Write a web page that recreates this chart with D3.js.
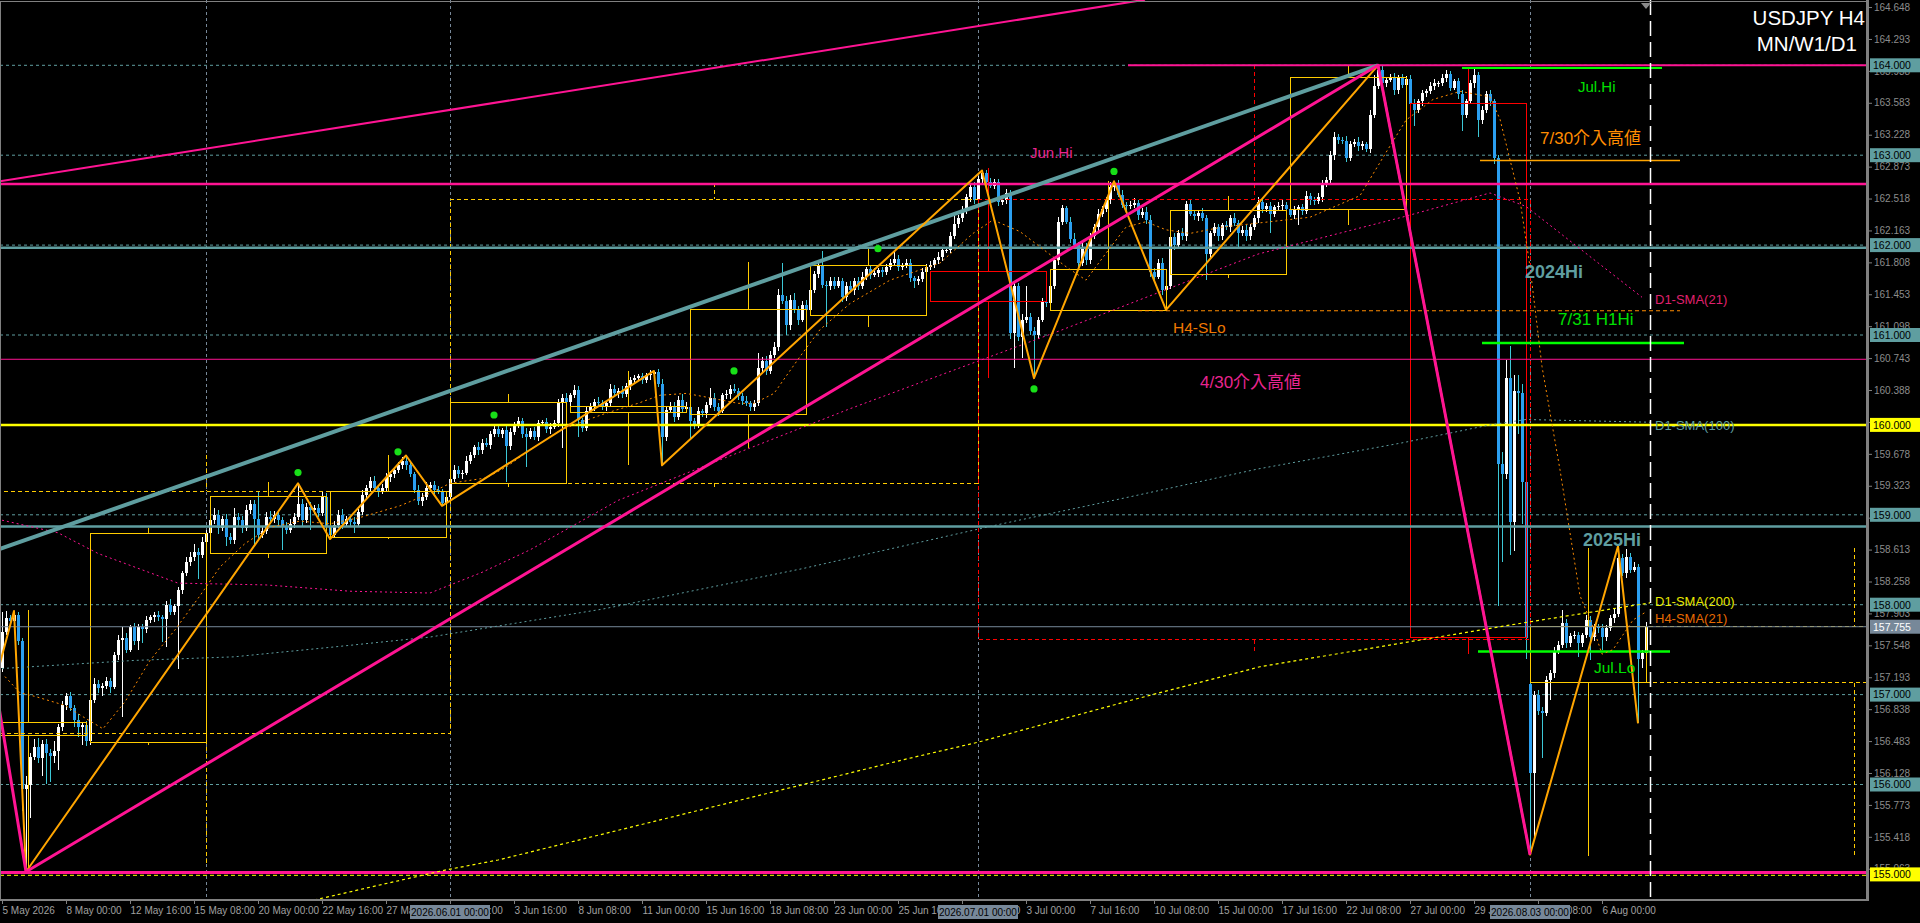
<!DOCTYPE html>
<html lang="ja">
<head>
<meta charset="UTF-8">
<style>
  body { margin: 0; background: #000; overflow: hidden; }
  svg text { font-family: "Liberation Sans", "Noto Sans CJK JP", sans-serif; }
</style>
</head>
<body>
<script src="https://cdn.jsdelivr.net/npm/d3@7"></script>
<script>
// ---- H4 candles (bar 0 = 5 May 2026 08:00), open = previous close ----
var firstOpen = 157.30;
var gapBar = 382, gapOpen = 157.12;
var closes = [
  157.70,157.85,157.82,157.88,157.60,155.95,156.00,156.31,156.42,156.30,156.45,156.35,156.32,156.37,156.64,156.88,
  156.98,156.85,156.72,156.64,156.66,156.48,156.94,157.12,157.07,157.10,157.15,157.09,157.44,157.61,157.63,157.50,
  157.75,157.60,157.75,157.73,157.83,157.86,157.88,157.86,157.84,158.00,157.92,157.98,158.16,158.35,158.48,158.53,
  158.59,158.55,158.70,158.80,158.94,159.00,158.85,158.95,158.75,158.72,158.98,158.94,158.85,159.05,159.12,158.95,
  158.78,158.82,158.98,158.95,159.00,158.94,158.88,158.83,158.90,158.98,159.12,158.94,159.09,159.05,159.08,159.02,
  159.20,158.87,158.78,158.89,159.00,158.90,158.95,158.92,158.90,159.03,159.22,159.30,159.38,159.30,159.27,159.30,
  159.42,159.45,159.50,159.55,159.60,159.55,159.45,159.28,159.15,159.20,159.30,159.33,159.28,159.26,159.13,159.20,
  159.40,159.50,159.45,159.47,159.60,159.66,159.75,159.72,159.80,159.78,159.90,159.95,159.90,159.94,159.76,159.92,
  160.00,160.04,159.90,159.87,159.93,159.87,160.02,160.03,159.95,159.98,160.02,160.24,160.30,160.26,160.33,160.39,
  160.05,159.97,160.16,160.20,160.26,160.24,160.20,160.24,160.40,160.35,160.38,160.34,160.43,160.50,160.52,160.54,
  160.50,160.55,160.57,160.59,160.46,159.87,160.17,160.20,160.09,160.28,160.18,160.20,160.04,160.00,160.15,160.13,
  160.22,160.30,160.20,160.16,160.33,160.34,160.40,160.38,160.32,160.27,160.24,160.20,160.24,160.63,160.71,160.60,
  160.78,160.87,161.45,161.38,161.11,161.39,161.28,161.17,161.33,161.28,161.50,161.68,161.78,161.56,161.55,161.60,
  161.55,161.60,161.42,161.55,161.50,161.60,161.54,161.65,161.73,161.67,161.69,161.72,161.70,161.76,161.80,161.85,
  161.76,161.77,161.80,161.63,161.60,161.62,161.70,161.76,161.78,161.83,161.87,161.94,161.95,162.10,162.24,162.30,
  162.38,162.53,162.65,162.50,162.73,162.80,162.70,162.66,162.70,162.48,162.50,162.58,161.02,161.54,160.98,161.17,
  161.20,161.05,161.00,161.17,161.37,161.36,161.54,161.83,162.26,162.41,162.26,162.07,162.00,161.80,161.98,161.83,
  162.10,162.20,162.35,162.40,162.50,162.65,162.68,162.56,162.45,162.43,162.45,162.47,162.33,162.37,162.28,161.70,
  161.65,161.80,161.50,161.55,162.09,162.00,162.13,162.10,162.46,162.35,162.32,162.36,162.30,161.90,162.13,162.20,
  162.10,162.22,162.20,162.30,162.25,162.13,162.17,162.10,162.20,162.30,162.48,162.40,162.43,162.35,162.42,162.44,
  162.45,162.40,162.34,162.39,162.42,162.38,162.55,162.50,162.49,162.53,162.69,162.72,163.00,163.20,163.17,163.16,
  162.97,163.12,163.15,163.10,163.12,163.07,163.45,163.77,163.95,163.80,163.84,163.86,163.72,163.86,163.78,163.85,
  163.57,163.50,163.60,163.69,163.71,163.77,163.80,163.80,163.86,163.90,163.75,163.82,163.68,163.45,163.60,163.80,
  163.89,163.39,163.50,163.68,163.60,162.97,159.57,159.45,160.52,158.92,160.38,160.35,159.37,157.63,156.13,156.99,
  156.82,156.80,157.16,157.24,157.49,157.55,157.80,157.57,157.65,157.66,157.57,157.66,157.83,157.64,157.75,157.74,
  157.64,157.74,157.85,157.90,158.52,158.35,158.53,158.39,158.42,157.40,157.46,157.755
];
// wick lengths in 0.01 yen
var upWick = [
  22,8,4,5,4,3,10,4,9,10,5,6,4,11,3,5,  4,5,3,6,4,5,3,6,4,3,5,4,3,5,12,6,
  2,5,4,3,4,3,4,5,3,4,6,3,4,3,5,6,  9,4,5,3,4,8,5,4,6,5,10,4,5,6,4,5,
  31,4,5,6,4,5,3,4,5,4,23,6,4,5,3,4,  5,4,3,4,5,6,4,3,5,4,6,3,4,5,3,4,
  5,4,3,4,4,6,4,3,5,4,6,3,5,4,3,4,  3,5,4,3,5,4,3,6,4,5,3,6,4,3,5,4,
  3,5,4,6,3,5,4,3,5,4,3,5,4,6,3,5,  4,3,5,4,3,5,4,3,6,4,3,5,4,3,4,3,
  4,3,4,1,3,5,4,6,5,4,6,5,3,4,5,3,  4,11,5,4,3,5,4,6,3,4,5,3,4,17,5,6,
  4,5,6,35,5,6,8,4,5,6,4,3,5,15,4,5,  4,5,3,4,5,3,4,5,3,4,5,3,4,3,4,8,
  4,3,5,4,3,4,5,3,4,3,5,4,3,5,10,4,  5,4,3,5,4,3,4,5,3,4,5,4,3,5,4,6,
  34,5,4,3,4,5,3,4,5,4,3,5,6,4,5,4,  3,4,5,3,4,5,3,4,5,3,4,5,3,4,5,6,
  4,5,6,4,3,5,4,6,3,5,4,3,5,4,3,5,  4,3,5,4,6,3,4,5,3,4,5,3,4,5,3,4,
  5,3,4,5,3,4,5,3,4,5,3,4,5,6,4,3,  5,4,3,5,4,3,5,12,5,4,3,4,5,3,4,3,
  4,5,3,4,3,4,5,3,4,5,4,3,4,5,3,4,  8,4,5,3,4,3,3,13,20,36,17,17,10,3,3,5,
  6,4,5,3,4,5,14,4,3,5,4,3,5,4,3,4,  5,3,4,5,13,4,9,4,5,3,4,5
];
var dnWick = [
  5,4,6,3,5,25,92,37,4,6,20,34,29,8,21,4,  5,3,8,11,20,5,4,3,5,9,4,7,3,5,86,4,
  3,5,10,16,4,3,5,4,25,31,4,3,69,4,3,5,  4,26,3,5,23,4,6,3,10,5,4,6,5,3,4,30,
  5,4,3,5,4,6,27,4,3,5,4,6,3,22,4,5,  3,4,5,3,4,6,3,5,10,4,3,5,4,3,7,4,
  3,5,4,3,4,5,3,4,4,5,3,4,5,3,3,4,  5,3,4,5,3,4,3,5,4,3,5,4,3,5,39,4,
  3,4,5,34,3,4,5,3,4,5,3,4,50,4,5,3,  18,5,4,3,5,4,3,5,4,3,5,4,3,4,5,3,
  4,3,5,3,4,32,5,4,6,3,5,4,21,5,3,4,  5,3,4,6,3,4,5,3,4,5,3,4,5,3,4,5,
  3,4,5,4,11,5,4,6,3,5,4,3,5,4,46,5,  4,3,5,4,3,5,4,3,4,5,3,4,5,3,4,3,
  5,4,3,4,8,4,3,5,4,3,4,5,3,4,3,5,  4,3,5,4,3,4,5,3,4,5,3,4,7,39,5,24,
  4,5,48,4,3,5,4,3,5,4,3,5,4,6,3,5,  4,3,5,4,3,4,5,3,4,5,3,4,5,3,4,5,
  4,3,6,22,4,5,3,4,5,3,4,5,3,29,4,3,  5,4,3,5,4,15,3,5,4,3,5,4,3,22,4,3,
  5,4,3,5,17,4,3,5,4,3,5,4,3,5,4,3,  5,4,3,5,4,3,5,4,3,5,4,3,5,4,3,5,
  4,17,3,5,4,3,5,4,3,5,4,3,5,18,4,3,  5,19,4,3,5,7,158,97,5,37,32,45,47,23,91,72,
  5,50,4,22,5,4,3,5,4,3,15,4,3,26,4,5,  14,4,3,5,4,3,5,4,3,72,10,6
];

// ---- higher timeframe candles (W1 solid boxes, MN dashed boxes) ----
var wkStart = [-8, 22, 52, 82, 112, 142, 172, 202, 232, 262, 292, 322, 352, 382];
var wkOpen  = [156.55,156.47,158.57,158.75,159.35,160.14,160.12,161.22,161.71,161.27,161.67,162.40,163.57,157.13];
var wkHigh  = [157.94,158.85,159.36,159.66,160.34,160.60,161.81,161.97,162.86,162.71,162.55,163.99,163.98,158.63];
var wkLow   = [155.03,156.44,158.52,158.73,159.31,159.55,159.74,161.09,160.52,161.27,161.63,162.22,157.45,155.20];
var wkClose = [156.69,158.79,159.20,159.26,160.25,160.20,161.28,161.77,161.37,161.73,162.38,163.86,157.63,157.755];
var mnStart = [-10, 112, 244, 382];
var mnEnd   = [112, 244, 382, 544];
var mnOpen  = [156.57, 159.35, 162.51, 157.13];
var mnHigh  = [159.66, 162.69, 164.00, 158.63];
var mnLow   = [155.10, 159.30, 157.45, 155.20];
var mnClose = [159.26, 162.51, 157.61, 157.755];

// ---- moving averages (bar, price) ----
var d1sma21Bars = [0,14,24,44,66,87,107,120,132,154,180,212,264,314,350,372,381,410];
var d1sma21 = [158.94,158.80,158.57,158.24,158.22,158.15,158.13,158.36,158.61,159.16,159.62,160.18,161.04,161.90,162.31,162.58,162.43,161.42];
var d1sma100Bars = [0,33,58,83,107,150,200,250,282,314,350,372,381,412];
var d1sma100 = [157.29,157.38,157.42,157.53,157.64,157.95,158.40,158.90,159.20,159.51,159.80,160.00,160.06,160.03];
var d1sma200Bars = [62,79.5,111,124,225.75,244,282.5,314.5,349.5,382,412];
var d1sma200 = [154.55,154.73,155.05,155.16,156.28,156.47,156.94,157.31,157.57,157.81,158.02];
var h4sma21Bars = [0.75,4.5,8.25,15.75,20.75,25.25,30.75,37,43.25,49.5,54.5,60.75,67,74.5,82,89.5,99.5,107,112,121,126,132,139.5,146,151,159,164.5,171,176,184,188,193,196,199.5,204.5,212,222,234.5,242.75,247.75,254.5,259.5,266,271,276,281,286,291,297,305,317,327,339.5,346,351,357.75,364.5,372,374.5,379.5,382,385,389.5,394.5,397.75,400,402.75,407.75,411];
var h4sma21 = [157.20,157.02,156.98,156.88,156.74,156.62,156.92,157.38,157.72,158.10,158.42,158.68,158.86,158.93,158.90,158.97,159.10,159.24,159.35,159.41,159.53,159.72,159.94,160.05,160.13,160.24,160.33,160.35,160.31,160.24,160.24,160.35,160.54,160.76,161.06,161.35,161.61,161.80,162.13,162.28,162.15,161.98,161.76,161.61,161.91,162.20,162.26,162.17,162.13,162.20,162.26,162.31,162.55,163.03,163.39,163.62,163.71,163.65,163.40,162.50,161.76,160.65,159.50,158.10,157.75,157.45,157.50,157.83,157.92];

// ---- zigzags, trend lines, swing dots ----
var zzBars = [-2,3,6,74,82,101,110,163,165,245,258,278,291,344,382,404,409];
var zzPrices = [157.10,157.93,155.03,159.35,158.73,159.66,159.10,160.60,159.55,162.83,160.52,162.71,161.28,164.00,155.22,158.65,156.68];
var bigZzBars = [-12, 6, 344, 382];
var bigZzPrices = [159.90, 155.03, 164.00, 155.22];
var tealTrendBars = [-0.5, 344], tealTrendPrices = [158.62, 164.00];
var pinkTrendBars = [-0.5, 285.75], pinkTrendPrices = [162.71, 164.73];
var dotBars = [74, 99, 123, 183, 219, 258, 278];
var dotPrices = [159.47, 159.70, 160.11, 160.60, 161.96, 160.40, 162.82];

// ---- horizontal levels ----
var roundLevels = [156, 157, 158, 159, 161, 162, 163, 164];
var level160 = 160.00, level155 = 155.02, level155b = 154.99;
var aug3Open = 157.13;
var jun_hi = 162.68, hi2024 = 161.97, hi2025 = 158.87, int430 = 160.73;
var top164 = 164.00, julHi = 163.97, int730 = 162.94, h4SLo = 161.27, h1Hi731 = 160.91, julLo = 157.48;
var lastPrice = 157.755;
var markBar = 51;

// ---- texts ----
var noteText  = ['Jun.Hi','4/30介入高値','H4-SLo','2024Hi','2025Hi','7/30介入高値','Jul.Hi','7/31 H1Hi','D1-SMA(21)','D1-SMA(100)','D1-SMA(200)','H4-SMA(21)','Jul.Lo'];
var noteBar   = [257, 299.5, 292.75, 380.75, 395.25, 384.5, 394, 389, 413.25, 413.25, 413.25, 413.25, 398];
var notePrice = [162.97, 160.41, 161.02, 161.63, 158.65, 163.12, 163.70, 161.11, 161.34, 159.94, 157.99, 157.80, 157.24];
var priceTicks = [155.063,155.418,155.773,156.128,156.483,156.838,157.193,157.548,157.903,158.258,158.613,158.968,159.323,159.678,160.033,160.388,160.743,161.098,161.453,161.808,162.163,162.518,162.873,163.228,163.583,163.938,164.293,164.648];
var dateTickBars = [0,16,32,48,64,80,96,112,128,144,160,176,192,208,224,240,256,272,288,304,320,336,352,368,384,400];
var dateLabels = ['5 May 2026','8 May 00:00','12 May 16:00','15 May 08:00','20 May 00:00','22 May 16:00','27 May 08:00','1 Jun 00:00','3 Jun 16:00','8 Jun 08:00','11 Jun 00:00','15 Jun 16:00','18 Jun 08:00','23 Jun 00:00','25 Jun 16:00','30 Jun 08:00','3 Jul 00:00','7 Jul 16:00','10 Jul 08:00','15 Jul 00:00','17 Jul 16:00','22 Jul 08:00','27 Jul 00:00','29 Jul 16:00','3 Aug 08:00','6 Aug 00:00'];
var sepBars = [112, 244, 382];
var sepLabels = ['2026.06.01 00:00', '2026.07.01 00:00', '2026.08.03 00:00'];
var shiftBar = 412;

// ---------------------------------------------------------------
var W = 1920, H = 923, plotR = 1867, plotB = 900;
var svg = d3.select('body').append('svg').attr('width', W).attr('height', H);
svg.append('rect').attr('width', W).attr('height', H).attr('fill', '#000');

var x = d3.scaleLinear().domain([0, 411]).range([2, 1646]);
var y = d3.scaleLinear().domain([155, 164]).range([874.4, 65.3]);

svg.append('defs').append('clipPath').attr('id', 'plot')
  .append('rect').attr('x', 0).attr('y', 0).attr('width', plotR).attr('height', plotB);
var g = svg.append('g').attr('clip-path', 'url(#plot)');

var TEAL = '#5f9ea0', PINK = '#ff1493', GOLD = '#ffcc00', GREEN = '#00e000', ORANGE = '#ffa500';

function hline(p, color, w, dash, b0, b1) {
  g.append('line')
    .attr('x1', b0 == null ? 0 : x(b0)).attr('x2', b1 == null ? plotR : x(b1))
    .attr('y1', y(p)).attr('y2', y(p))
    .attr('stroke', color).attr('stroke-width', w)
    .attr('stroke-dasharray', dash || null);
}
function vline(parent, xx, y1, y2, color, dash) {
  parent.append('line').attr('x1', xx).attr('x2', xx).attr('y1', y1).attr('y2', y2)
    .attr('stroke', color).attr('stroke-dasharray', dash || null);
}
function poly(bs, ps, color, w, dash) {
  var line = d3.line().x(function(d){ return x(d[0]); }).y(function(d){ return y(d[1]); });
  g.append('path').datum(bs.map(function(b, i){ return [b, ps[i]]; }))
    .attr('d', line).attr('fill', 'none')
    .attr('stroke', color).attr('stroke-width', w)
    .attr('stroke-dasharray', dash || null)
    .attr('stroke-linejoin', 'round');
}

// period separators and marker line
sepBars.concat([markBar]).forEach(function(b){
  vline(g, x(b) + 0.5, 0, plotB, '#778899', '3,3');
});

// round number levels
roundLevels.forEach(function(p){ hline(p, TEAL, 1, '3,3'); });

// candles
var bars = closes.map(function(c, i){
  var o = i === 0 ? firstOpen : closes[i - 1];
  if (i === gapBar) o = gapOpen;
  return { i: i, o: o, c: c, h: Math.max(o, c) + upWick[i] / 100, l: Math.min(o, c) - dnWick[i] / 100 };
});
var cg = g.append('g').attr('shape-rendering', 'crispEdges');
cg.selectAll('line').data(bars).enter().append('line')
  .attr('x1', function(d){ return x(d.i) + 0.5; }).attr('x2', function(d){ return x(d.i) + 0.5; })
  .attr('y1', function(d){ return y(d.h); }).attr('y2', function(d){ return y(d.l); })
  .attr('stroke', function(d){ return d.c >= d.o ? '#ffffff' : '#3cc8d6'; });
cg.selectAll('rect').data(bars).enter().append('rect')
  .attr('x', function(d){ return x(d.i) - 1; }).attr('width', 3)
  .attr('y', function(d){ return y(Math.max(d.o, d.c)); })
  .attr('height', function(d){ return Math.max(1, y(Math.min(d.o, d.c)) - y(Math.max(d.o, d.c))); })
  .attr('fill', function(d){ return d.c >= d.o ? '#ffffff' : '#2b9ff0'; });

// higher timeframe boxes: body outline, wick outside body only
var bg = g.append('g').attr('fill', 'none').attr('shape-rendering', 'crispEdges');
function htfCandle(b0, b1, o, h, l, c, dash) {
  var col = c >= o ? GOLD : '#ff0000';
  var x0 = x(b0), x1 = x(b1), xm = Math.round((x0 + x1) / 2) + 0.5;
  var top = y(Math.max(o, c)), bot = y(Math.min(o, c));
  bg.append('rect').attr('x', x0).attr('y', top).attr('width', x1 - x0).attr('height', Math.max(1, bot - top))
    .attr('stroke', col).attr('stroke-dasharray', dash || null);
  vline(bg, xm, y(h), top, col, dash);
  vline(bg, xm, bot, y(l), col, dash);
}
mnStart.forEach(function(s, k){
  htfCandle(s, mnEnd[k], mnOpen[k], mnHigh[k], mnLow[k], mnClose[k], '4,3');
});
wkStart.forEach(function(s, k){
  htfCandle(s, s + 29, wkOpen[k], wkHigh[k], wkLow[k], wkClose[k], null);
});

// key levels
hline(level155b, '#ffff00', 1, '4,3');
hline(level155, PINK, 3);
hline(level160, '#ffff00', 2.5);
hline(int430, PINK, 1);
hline(jun_hi, PINK, 2.5);
hline(hi2024, TEAL, 2.5);
hline(hi2025, TEAL, 2.5);
hline(lastPrice, '#778899', 1);
hline(top164, PINK, 2, null, 281.5, null);
hline(julHi, '#00ff00', 2, null, 365, 415);
hline(int730, ORANGE, 1.5, null, 369.5, 419.5);
hline(h4SLo, '#ff8c00', 1.2, '4,3', 284, 419.5);
hline(h1Hi731, '#00ff00', 2.5, null, 370, 420.5);
hline(julLo, '#00ff00', 2.5, null, 369, 417);

// moving averages
poly(d1sma100Bars, d1sma100, TEAL, 1, '2,3');
poly(d1sma200Bars, d1sma200, '#ffff00', 1.2, '3,3');
poly(d1sma21Bars, d1sma21, PINK, 1, '2,3');
poly(h4sma21Bars, h4sma21, '#ff8c00', 1, '2,3');

// trend lines and zigzags
poly(pinkTrendBars, pinkTrendPrices, PINK, 2);
poly(tealTrendBars, tealTrendPrices, TEAL, 4);
poly(zzBars, zzPrices, ORANGE, 2);
poly(bigZzBars, bigZzPrices, PINK, 3);

// swing dots
g.selectAll('circle.sw').data(dotBars).enter().append('circle')
  .attr('cx', function(d){ return x(d); })
  .attr('cy', function(d, i){ return y(dotPrices[i]); })
  .attr('r', 3.6).attr('fill', '#18e018');

// chart shift line
g.append('line').attr('x1', x(shiftBar) + 0.5).attr('x2', x(shiftBar) + 0.5).attr('y1', 0).attr('y2', plotB)
  .attr('stroke', '#ffffff').attr('stroke-width', 1.5).attr('stroke-dasharray', '15,6');
g.append('path')
  .attr('d', 'M' + (x(411) - 5) + ',3 L' + (x(411) + 5) + ',3 L' + x(411) + ',9 Z')
  .attr('fill', '#8a8a8a');

// annotation texts
var noteColor = ['#e8258f','#e8258f','#f07800',TEAL,TEAL,'#ff8c00',GREEN,GREEN,'#e0206e',TEAL,'#e8e800','#e86a00',GREEN];
var noteSize  = [15, 17, 15.5, 18, 18, 17, 15, 17, 13, 13, 13, 13, 15.5];
g.selectAll('text.note').data(noteText).enter().append('text')
  .attr('x', function(d, i){ return x(noteBar[i]); })
  .attr('y', function(d, i){ return y(notePrice[i]); })
  .attr('fill', function(d, i){ return noteColor[i]; })
  .attr('font-size', function(d, i){ return noteSize[i]; })
  .attr('font-weight', function(d, i){ return (i === 3 || i === 4) ? 'bold' : 'normal'; })
  .text(function(d){ return d; });

// title
svg.append('text').attr('x', 1865).attr('y', 24.5).attr('text-anchor', 'end')
  .attr('fill', '#fff').attr('font-size', 20.5).text('USDJPY H4');
svg.append('text').attr('x', 1857).attr('y', 50.5).attr('text-anchor', 'end')
  .attr('fill', '#fff').attr('font-size', 20.5).text('MN/W1/D1');

// frame
svg.append('rect').attr('x', 0.5).attr('y', 1.5).attr('width', plotR).attr('height', plotB - 1.5)
  .attr('fill', 'none').attr('stroke', '#808080');
svg.append('line').attr('x1', plotR + 0.5).attr('x2', plotR + 0.5).attr('y1', 0).attr('y2', plotB + 1)
  .attr('stroke', '#808080').attr('stroke-width', 3);
svg.append('line').attr('x1', 0).attr('x2', plotR).attr('y1', plotB).attr('y2', plotB)
  .attr('stroke', '#808080').attr('stroke-width', 2);

// price axis
var axR = svg.append('g').attr('transform', 'translate(' + (plotR + 1) + ',0)')
  .call(d3.axisRight(y).tickValues(priceTicks).tickSize(4).tickFormat(d3.format('.3f')));
axR.select('.domain').remove();
axR.selectAll('line').attr('stroke', '#808080');
axR.selectAll('text').attr('x', 6).attr('fill', '#8c8c8c')
  .style('font-family', '"Liberation Sans", sans-serif').style('font-size', '10px');

// price labels
var boxLevels = roundLevels.concat([level160, 155, lastPrice]);
boxLevels.forEach(function(p){
  var isRound = roundLevels.indexOf(p) >= 0;
  var bgc = isRound ? TEAL : (p === lastPrice ? '#778899' : '#ffff00');
  var fg = p === lastPrice ? '#ffffff' : '#000000';
  svg.append('rect').attr('x', plotR + 3).attr('y', y(p) - 7).attr('width', 50).attr('height', 14).attr('fill', bgc);
  svg.append('text').attr('x', plotR + 6).attr('y', y(p) + 3.8).attr('fill', fg)
    .attr('font-size', 10.5).text(d3.format('.3f')(p));
});

// time axis
var axB = svg.append('g').attr('transform', 'translate(0,' + plotB + ')')
  .call(d3.axisBottom(x).tickValues(dateTickBars).tickSize(4).tickFormat(function(d, i){ return dateLabels[i]; }));
axB.select('.domain').remove();
axB.selectAll('line').attr('stroke', '#808080');
axB.selectAll('text').attr('text-anchor', 'start').attr('x', 0).attr('y', 7).attr('fill', '#a0a0a0')
  .style('font-family', '"Liberation Sans", sans-serif').style('font-size', '10px');

sepBars.forEach(function(b, i){
  svg.append('rect').attr('x', x(b) - 40).attr('y', 905).attr('width', 80).attr('height', 14).attr('fill', '#778899');
  svg.append('text').attr('x', x(b)).attr('y', 915.5).attr('text-anchor', 'middle')
    .attr('fill', '#000').attr('font-size', 10).text(sepLabels[i]);
});
</script>
</body>
</html>
